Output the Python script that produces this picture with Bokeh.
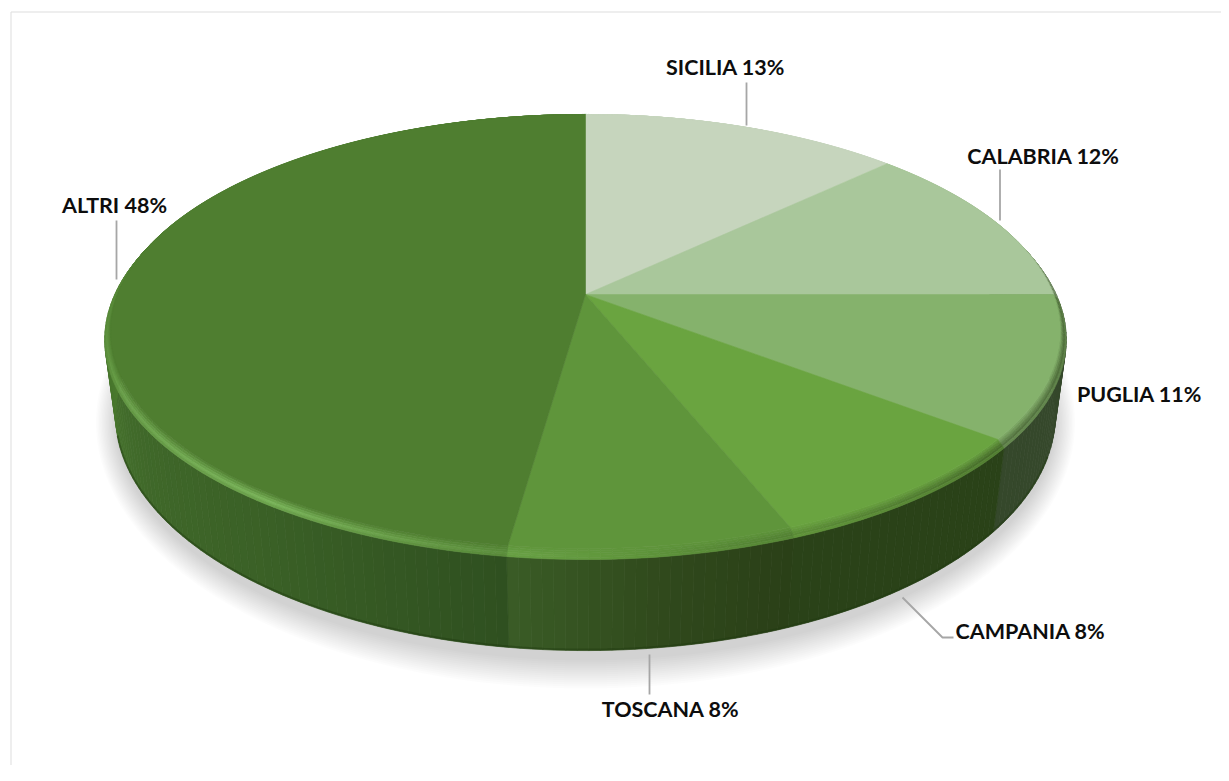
import numpy as np
from bokeh.plotting import figure
from bokeh.models import Range1d
from bokeh.core.properties import value
from bokeh.embed import file_html
from bokeh.resources import INLINE

# ---- data (slice sizes from the drawn angles; labels show them rounded) ----
regions = ["SICILIA", "CALABRIA", "PUGLIA", "CAMPANIA", "TOSCANA", "ALTRI"]
shares = [12.8, 12.2, 10.55, 8.45, 8.2, 47.8]

# ---- styling ----
top_colors = ["#C6D5BD", "#A9C79B", "#85B26C", "#6AA440", "#5F953B", "#4F7E30"]
label_pos = [(725, 66), (1043, 155), (1139, 393), (1030, 630), (670, 708), (114, 204)]
leaders = [
    ([746, 746], [82, 125]),
    ([999.5, 999.5], [169, 220]),
    None,
    ([902, 942, 953], [597, 637, 637]),
    ([649, 649], [654, 694]),
    ([116, 116], [220, 279]),
]


def hex2rgb(c):
    return np.array([int(c[i:i + 2], 16) for i in (1, 3, 5)], dtype=float)


def rgb2hex(v):
    v = np.clip(np.round(v), 0, 255).astype(int)
    return "#%02x%02x%02x" % tuple(v)


def mix(a, b, t):
    return rgb2hex(hex2rgb(a) * (1 - t) + hex2rgb(b) * t)


def ramp(deg, degs, cols):
    rgb = np.array([hex2rgb(c) for c in cols])
    return rgb2hex(np.array([np.interp(deg, degs, rgb[:, i]) for i in range(3)]))


# perspective projection of the pie disc
CX, CY, K = 585.0, 294.0, 0.1705
A, B = 468.0, 210.7
BX, BY, BA, BB = 585.0, 374.0, 463.0, 229.0


def surf(t):
    u, v = np.sin(t), np.cos(t)
    d = 1 + K * v
    return CX + A * u / d, CY - B * v / d


def outer(t, f=1.0):
    x, y = surf(t)
    u, v = np.sin(t), np.cos(t)
    w = (1 - v) / 2 * f
    return x + 10 * w * u, y + 11 * w


def bottom(t):
    u, v = np.sin(t), np.cos(t)
    d = 1 + K * v
    return BX + BA * u / d, BY - BB * v / d


def wall_color(i, deg):
    if i <= 1:
        return "#3b5030"
    if i == 2:
        return "#35482B"
    if i == 3:
        return "#2A4218"
    if i == 4:
        return ramp(deg, [158, 172, 187.9], ["#2A3F17", "#30491C", "#3A5C26"])
    return ramp(deg, [187.9, 215, 240, 265, 300], ["#2F5020", "#3A6026", "#40692A", "#4A7A2E", "#4A7A2E"])


def highlight(deg):
    return np.interp(deg, [50, 90, 130, 165, 190, 215, 245, 275, 310],
                     [0, -0.55, -0.5, -0.15, 0.2, 0.55, 0.35, 0.1, 0])


p = figure(width=1221, height=765, x_range=Range1d(0, 1221), y_range=Range1d(765, 0),
           output_backend="svg", toolbar_location=None, min_border=0,
           background_fill_color="white", border_fill_color="white", outline_line_color=None)
p.axis.visible = False
p.grid.visible = False

# chart frame
p.line([10.5, 10.5], [765, 11.5], line_color="#DDDDDD", line_width=1)
p.line([10.5, 1221], [11.5, 11.5], line_color="#DDDDDD", line_width=1)

# soft shadow
tt = np.linspace(0, 2 * np.pi, 241)
for ds in np.arange(30, 0, -2):
    xs = 585 + (468 + 0.72 * ds) * np.sin(tt)
    ys = 422 + (236 + ds) * np.cos(tt)
    p.patch(xs, ys, fill_color="black", fill_alpha=0.01, line_color=None)

edges = np.cumsum([0] + shares) / sum(shares) * 2 * np.pi

# side wall
wx, wy, wc = [], [], []
for i in range(len(shares)):
    lo, hi = edges[i], edges[i + 1]
    lo = max(lo, np.radians(60))
    hi = min(hi, np.radians(300))
    if hi <= lo:
        continue
    n = int(np.degrees(hi - lo) / 1.2) + 1
    ts = np.linspace(lo, hi, n + 1)
    for a, b in zip(ts[:-1], ts[1:]):
        xa, ya = outer(a)
        xb, yb = outer(b)
        xc, yc = bottom(b)
        xd, yd = bottom(a)
        wx.append([xa, xb, xc, xd])
        wy.append([ya, yb, yc, yd])
        wc.append(wall_color(i, np.degrees((a + b) / 2)))
p.patches(wx, wy, fill_color=wc, line_color=wc, line_width=0.7)

# dark lip along the wall's lower edge
lip = np.linspace(np.radians(110), np.radians(255), 200)
lx, ly = bottom(lip)
p.line(lx, ly - 1, line_color="#1f3a10", line_alpha=0.45, line_width=2)

# bevelled rim
fr = [0.0, 0.2, 0.4, 0.6, 0.8, 1.0]
wt = [0.2, 0.45, 0.75, 1.0, 0.7]
bx, by, bc = [], [], []
for i in range(len(shares)):
    lo, hi = edges[i], edges[i + 1]
    n = int(np.degrees(hi - lo) / 1.2) + 1
    ts = np.linspace(lo, hi, n + 1)
    for a, b in zip(ts[:-1], ts[1:]):
        h = highlight(np.degrees((a + b) / 2))
        for r in range(len(wt)):
            xa, ya = outer(a, fr[r])
            xb, yb = outer(b, fr[r])
            xc, yc = outer(b, fr[r + 1])
            xd, yd = outer(a, fr[r + 1])
            g = h * wt[r]
            col = mix(top_colors[i], "#9BE07A", g) if g >= 0 else mix(top_colors[i], "#243814", -g)
            bx.append([xa, xb, xc, xd])
            by.append([ya, yb, yc, yd])
            bc.append(col)
p.patches(bx, by, fill_color=bc, line_color=bc, line_width=0.6)

# top surface slices
sx, sy = [], []
for i in range(len(shares)):
    ts = np.linspace(edges[i], edges[i + 1], max(8, int(shares[i] * 4)))
    x, y = surf(ts)
    sx.append([CX] + list(x))
    sy.append([CY] + list(y))
p.patches(sx, sy, fill_color=top_colors, line_color=top_colors, line_width=0.6)

# leader lines and labels
for seg in leaders:
    if seg is not None:
        p.line(seg[0], seg[1], line_color="#A6A6A6", line_width=1.8)

texts = [f"{r} {round(s)}%" for r, s in zip(regions, shares)]
p.text([q[0] for q in label_pos], [q[1] for q in label_pos], text=texts,
       text_font=value("Lato"), text_font_style="bold", text_font_size="21.5px",
       text_color="#0D0D0D", text_align="center", text_baseline="middle")

open("out.html", "w").write(file_html(p, INLINE))
